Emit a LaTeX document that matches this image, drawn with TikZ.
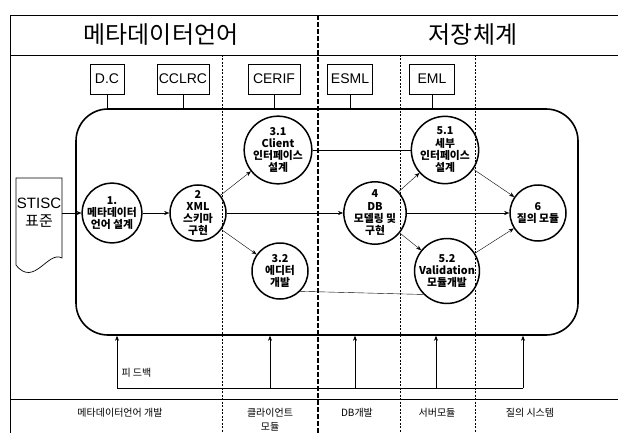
\documentclass[tikz,border=0pt]{standalone}
\usepackage{fontspec}
\setmainfont{Noto Sans CJK KR}
\newfontfamily\arial{Liberation Sans}
\usetikzlibrary{shapes, arrows.meta}

\begin{document}
\begin{tikzpicture}[x=1pt, y=-1pt, >={Stealth[length=5pt, width=4pt]},
        task/.style={draw, circle, line width=1.5pt, minimum size=56pt, inner sep=0pt, align=center,
            font=\fontsize{10.8}{12.3}\selectfont\bfseries},
        stdbox/.style={draw, line width=0.7pt, minimum height=30pt, inner sep=0pt,
            font=\arial\fontsize{14}{16}\selectfont},
        lane/.style={line width=0.6pt, dash pattern=on 2pt off 1.5pt},
        stage/.style={font=\fontsize{10}{14}\selectfont, align=center}]
        \useasboundingbox (0,0) rectangle (618,433);

        \draw [line width=0.8pt] (618,15) -- (10,15) -- (10,433);
        \draw [line width=0.6pt] (10,55) -- (618,55);
        \draw [line width=0.6pt] (10,399) -- (618,399);
        \draw [line width=2pt, dash pattern=on 5pt off 2pt] (318,15) -- (318,433);
        \foreach \x in {222,400,475}
            \draw [lane] (\x,55) -- (\x,433);

        \node [font=\fontsize{24}{24}\selectfont] (tmeta) at (161,35) {메타데이터언어};
        \node [font=\fontsize{24}{24}\selectfont] (tstore) at (473,35) {저장체계};

        \node [stdbox, minimum width=34pt] (dc) at (107,79) {D.C};
        \node [stdbox, minimum width=52pt] (cclrc) at (183,79) {CCLRC};
        \node [stdbox, minimum width=52pt] (cerif) at (274,79) {CERIF};
        \node [stdbox, minimum width=45pt] (esml) at (350,79) {ESML};
        \node [stdbox, minimum width=45pt] (eml) at (432,79) {EML};

        \node [draw, line width=1.6pt, rounded corners=32pt, minimum width=502pt, minimum height=226pt, inner sep=0pt] (work) at (327,222) {};

        \foreach \b in {dc,cclrc,cerif,esml,eml}
            \draw [line width=0.6pt] (\b) -- (\b |- work.north);

        \draw [line width=0.7pt] (16,178) -- (62,178) -- (62,258) .. controls (48,250) and (34,288) .. (16,265) -- cycle;
        \node [inner sep=0pt, minimum width=46pt, align=center, font=\fontsize{15}{18}\selectfont] (stisc) at (39,213) {{\arial STISC}\\표준};

        \node [task] (c1) at (112,213) {1.\\메타데이터\\언어 설계};
        \node [task] (c2) at (198,213) {2\\XML\\스키마\\구현};
        \node [task] (c31) at (278,150) {3.1\\Client\\인터페이스\\설계};
        \node [task] (c32) at (280,271) {3.2\\에디터\\개발};
        \node [task] (c4) at (375,213) {4\\DB\\모델링 및\\구현};
        \node [task] (c51) at (445,150) {5.1\\세부\\인터페이스\\설계};
        \node [task] (c52) at (447,271) {5.2\\Validation\\모듈개발};
        \node [task] (c6) at (538,213) {6\\질의 모듈};

        \draw [->] (stisc.east) -- (c1);
        \draw [->] (c1) -- (c2);
        \draw [->] (c2) -- (c31);
        \draw [->] (c2) -- (c32);
        \draw [->] (c2) -- (c4);
        \draw [->] (c4) -- (c51);
        \draw [->] (c4) -- (c52);
        \draw [->] (c4) -- (c6);
        \draw [->] (c51) -- (c6);
        \draw [->] (c52) -- (c6);
        \draw (c31) -- (c51);
        \draw (c32.-45) -- (c52.225);

        % feedback
        \coordinate (fb1) at (117,388);
        \coordinate (fb2) at (270,388);
        \coordinate (fb3) at (355,388);
        \coordinate (fb4) at (436,388);
        \coordinate (fb5) at (523,388);
        \draw [line width=0.6pt] (fb1) -- (fb5);
        \foreach \i in {1,...,5}
            \draw [->, line width=0.6pt] (fb\i) -- (fb\i |- work.south);
        \node [anchor=west, font=\fontsize{10}{12}\selectfont] (fbtext) at (118,373) {피 드백};

        \node [stage] (s1) at (120,413) {메타데이터언어 개발};
        \node [stage] (s2) at (270,420) {클라이언트\\모듈};
        \node [stage] (s3) at (357,413) {DB개발};
        \node [stage] (s4) at (437,413) {서버모듈};
        \node [stage] (s5) at (530,413) {질의 시스템};
    \end{tikzpicture}
\end{document}
